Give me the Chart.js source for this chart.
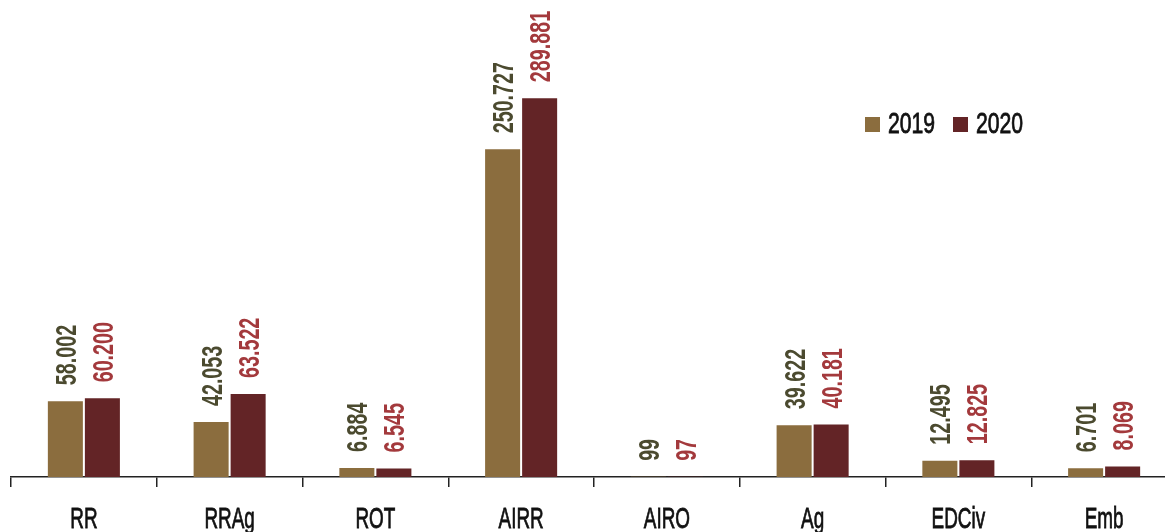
<!DOCTYPE html>
<html>
<head>
<meta charset="utf-8">
<script src="https://cdn.jsdelivr.net/npm/chart.js@4/dist/chart.umd.min.js"></script>
<style>
    html, body { margin: 0; padding: 0; background: #fff; overflow: hidden; }
    #wrap { position: relative; width: 1177px; height: 532px; }
</style>
</head>
<body>
<div id="wrap"><canvas id="chart"></canvas></div>
<script>
// categories and values
const categories = ["RR", "RRAg", "ROT", "AIRR", "AIRO", "Ag", "EDCiv", "Emb"];
const values2019 = [58002, 42053, 6884, 250727, 99, 39622, 12495, 6701];
const values2020 = [60200, 63522, 6545, 289881, 97, 40181, 12825, 8069];
const seriesNames = ["2019", "2020"];

const barColors = ["#8b6d3e", "#632426"];
const labelColors = ["#4b4a2f", "#a3393c"];
const FONT = "'Liberation Sans Narrow', 'Liberation Sans', sans-serif";

function fmt(v)
{
    return String(v).replace(/\B(?=(\d{3})+(?!\d))/g, ".");
}

// rotated value labels above each bar
const valueLabels = {
    id: "valueLabels",
    afterDatasetsDraw(chart)
    {
        const ctx = chart.ctx;
        chart.data.datasets.forEach((ds, i) =>
        {
            const meta = chart.getDatasetMeta(i);
            meta.data.forEach((bar, j) =>
            {
                ctx.save();
                ctx.translate(bar.x, bar.y - 16);
                ctx.rotate(-Math.PI / 2);
                ctx.scale(0.68, 1);
                ctx.font = "bold 29px " + FONT;
                ctx.fillStyle = labelColors[i];
                ctx.textAlign = "left";
                ctx.textBaseline = "alphabetic";
                ctx.fillText(fmt(ds.data[j]), 0, 10.5);
                ctx.restore();
            });
        });
    }
};

// condensed category labels under the axis
const categoryLabels = {
    id: "categoryLabels",
    afterDraw(chart)
    {
        const ctx = chart.ctx;
        const xs = chart.scales.x;
        chart.data.labels.forEach((lab, i) =>
        {
            ctx.save();
            ctx.translate(xs.getPixelForTick(i), 528);
            ctx.scale(0.63, 1);
            ctx.font = "30px " + FONT;
            ctx.fillStyle = "#111";
            ctx.strokeStyle = "#111";
            ctx.lineWidth = 0.8;
            ctx.textAlign = "center";
            ctx.textBaseline = "alphabetic";
            ctx.fillText(lab, 0, 0);
            ctx.strokeText(lab, 0, 0);
            ctx.restore();
        });
    }
};

// legend inside the plot, top right
const boxLegend = {
    id: "boxLegend",
    afterDraw(chart)
    {
        const ctx = chart.ctx;
        const pos = [865, 953];
        chart.data.datasets.forEach((ds, i) =>
        {
            ctx.save();
            ctx.fillStyle = ds.backgroundColor;
            ctx.fillRect(pos[i], 117, 15, 15);
            ctx.translate(pos[i] + 23, 133);
            ctx.scale(0.73, 1);
            ctx.font = "29px " + FONT;
            ctx.fillStyle = "#111";
            ctx.strokeStyle = "#111";
            ctx.lineWidth = 0.8;
            ctx.textBaseline = "alphabetic";
            ctx.fillText(ds.label, 0, 0);
            ctx.strokeText(ds.label, 0, 0);
            ctx.restore();
        });
    }
};

const chart = new Chart(document.getElementById("chart").getContext("2d"),
    {
        type: "bar",
        data: {
            labels: categories,
            datasets: [
                {
                    label: seriesNames[0],
                    data: values2019,
                    backgroundColor: barColors[0],
                    categoryPercentage: 0.508,
                    barPercentage: 0.946
                },
                {
                    label: seriesNames[1],
                    data: values2020,
                    backgroundColor: barColors[1],
                    categoryPercentage: 0.508,
                    barPercentage: 0.946
                }
            ]
        },
        options: {
            responsive: true,
            maintainAspectRatio: false,
            animation: false,
            layout: { padding: { left: 11, right: 0, top: 0, bottom: 0 } },
            plugins: {
                legend: { display: false },
                tooltip: { enabled: false }
            },
            scales: {
                x: {
                    afterFit(scale) { scale.height = 55; },
                    border: { display: true, color: "#222", width: 1.5 },
                    grid: {
                        drawOnChartArea: false,
                        drawTicks: true,
                        tickLength: 10,
                        color: "#222",
                        lineWidth: 1.5
                    },
                    ticks: { display: false }
                },
                y: {
                    display: false,
                    min: 0,
                    max: 365000
                }
            }
        },
        plugins: [valueLabels, categoryLabels, boxLegend]
    });
</script>
</body>
</html>
